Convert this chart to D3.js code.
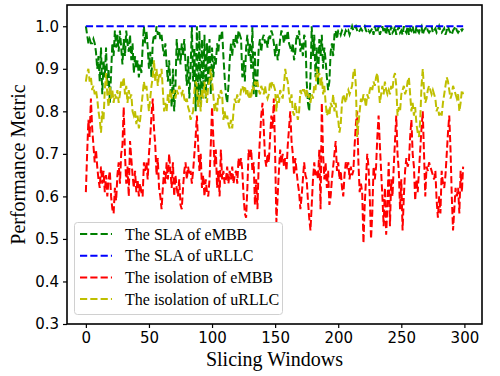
<!DOCTYPE html>
<html>
<head>
  <meta charset="utf-8">
  <style>
    body { margin: 0; background: #fff; }
    svg { display: block; }
  </style>
</head>
<body>
  <svg id='viz'></svg>
  <script src='https://d3js.org/d3.v7.min.js'></script>
  <script>
    // values, one per slicing window (0..299)
    var slaEmbb = [
      1.00, 0.98, 0.96, 0.97, 0.96, 0.96, 0.97, 0.96, 0.94, 0.90, 0.93, 0.87, 0.95, 0.84, 0.92, 0.88, 0.95, 0.86, 0.90, 0.82,
      0.89, 0.96, 0.93, 0.99, 0.95, 0.98, 0.94, 0.99, 0.95, 0.91, 0.97, 0.93, 0.99, 0.96, 0.94, 0.98, 0.92, 0.96, 0.89, 0.93,
      0.90, 0.92, 0.88, 0.91, 0.89, 0.95, 1.00, 0.96, 0.99, 0.95, 0.90, 0.94, 0.88, 0.96, 0.98, 0.97, 1.00, 0.98, 0.99, 0.97,
      0.98, 0.95, 0.93, 0.96, 0.91, 0.87, 0.92, 0.86, 0.81, 0.90, 0.80, 0.86, 0.97, 0.92, 0.95, 0.91, 0.96, 0.93, 0.97, 0.91,
      0.86, 0.93, 0.83, 0.90, 1.00, 0.87, 0.95, 0.80, 1.00, 0.82, 0.99, 0.81, 0.97, 0.85, 0.98, 0.83, 0.96, 0.86, 0.97, 0.84,
      0.95, 0.88, 0.93, 0.91, 0.96, 0.94, 0.98, 0.97, 0.99, 0.93, 0.88, 0.84, 0.82, 0.86, 0.92, 0.96, 0.93, 0.97, 0.95, 0.98,
      0.96, 0.99, 0.98, 0.97, 0.88, 0.92, 0.87, 0.95, 0.98, 0.93, 0.96, 0.90, 1.00, 0.84, 0.94, 0.83, 0.88, 0.95, 0.97, 0.94,
      0.97, 0.98, 0.96, 0.97, 0.95, 0.98, 0.97, 0.99, 0.98, 0.96, 0.93, 0.96, 0.92, 0.94, 0.97, 0.99, 0.98, 0.96, 0.98, 0.97,
      0.99, 0.96, 0.95, 0.94, 0.96, 0.92, 0.94, 0.98, 0.97, 0.99, 0.94, 0.96, 0.93, 0.98, 0.97, 0.87, 0.82, 0.80, 0.88, 1.00,
      0.93, 0.98, 0.88, 0.95, 0.86, 0.97, 0.93, 0.98, 0.90, 0.95, 0.92, 0.88, 0.85, 0.87, 0.94, 0.96, 0.93, 0.98, 0.99, 0.97,
      0.99, 0.99, 0.98, 0.99, 0.985, 0.98, 0.99, 0.985, 0.99, 0.98, 0.99, 1.00, 0.99, 0.995, 1.00, 0.99, 0.985, 0.99, 0.995, 0.99,
      0.995, 1.00, 0.99, 0.985, 0.99, 0.985, 0.99, 0.995, 0.98, 1.00, 0.99, 0.985, 1.00, 0.98, 0.99, 1.00, 0.985, 0.995, 0.98, 1.00,
      0.99, 0.98, 1.00, 0.985, 0.99, 1.00, 0.98, 0.99, 1.00, 0.985, 0.99, 0.98, 1.00, 0.99, 0.985, 1.00, 0.98, 0.995, 0.99, 1.00,
      0.985, 0.98, 1.00, 0.99, 0.985, 0.995, 1.00, 0.98, 0.99, 0.995, 1.00, 0.99, 0.985, 0.99, 1.00, 0.985, 0.99, 0.995, 0.985, 0.99,
      1.00, 0.99, 0.985, 0.99, 0.995, 0.98, 0.99, 1.00, 0.99, 0.985, 0.98, 0.99, 0.995, 1.00, 0.99, 0.985, 0.99, 0.995, 0.99, 0.995
    ];

    var slaUrllc = [
      1,1,1,1,1,1,1,1,1,1,1,1,1,1,1,1,1,1,1,1, 1,1,1,1,1,1,1,1,1,1,1,1,1,1,1,1,1,1,1,1,
      1,1,1,1,1,1,1,1,1,1,1,1,1,1,1,1,1,1,1,1, 1,1,1,1,1,1,1,1,1,1,1,1,1,1,1,1,1,1,1,1,
      1,1,1,1,1,1,1,1,1,1,1,1,1,1,1,1,1,1,1,1, 1,1,1,1,1,1,1,1,1,1,1,1,1,1,1,1,1,1,1,1,
      1,1,1,1,1,1,1,1,1,1,1,1,1,1,1,1,1,1,1,1, 1,1,1,1,1,1,1,1,1,1,1,1,1,1,1,1,1,1,1,1,
      1,1,1,1,1,1,1,1,1,1,1,1,1,1,1,1,1,1,1,1, 1,1,1,1,1,1,1,1,1,1,1,1,1,1,1,1,1,1,1,1,
      1,1,1,1,1,1,1,1,1,1,1,1,1,1,1,1,1,1,1,1, 1,1,1,1,1,1,1,1,1,1,1,1,1,1,1,1,1,1,1,1,
      1,1,1,1,1,1,1,1,1,1,1,1,1,1,1,1,1,1,1,1, 1,1,1,1,1,1,1,1,1,1,1,1,1,1,1,1,1,1,1,1,
      1,1,1,1,1,1,1,1,1,1,1,1,1,1,1,1,1,1,1,1
    ];

    var isoEmbb = [
      0.61, 0.70, 0.78, 0.74, 0.83, 0.76, 0.72, 0.68, 0.71, 0.67, 0.64, 0.62, 0.67, 0.63, 0.66, 0.61, 0.65, 0.60, 0.64, 0.66,
      0.60, 0.57, 0.56, 0.62, 0.59, 0.65, 0.68, 0.63, 0.70, 0.72, 0.81, 0.70, 0.63, 0.67, 0.60, 0.73, 0.69, 0.65, 0.62, 0.66,
      0.61, 0.64, 0.60, 0.63, 0.61, 0.60, 0.68, 0.66, 0.68, 0.64, 0.70, 0.74, 0.79, 0.83, 0.76, 0.72, 0.65, 0.69, 0.62, 0.60,
      0.57, 0.62, 0.66, 0.63, 0.68, 0.64, 0.70, 0.66, 0.62, 0.68, 0.60, 0.65, 0.62, 0.60, 0.64, 0.58, 0.57, 0.62, 0.66, 0.68,
      0.64, 0.67, 0.65, 0.66, 0.63, 0.66, 0.70, 0.74, 0.79, 0.72, 0.66, 0.70, 0.62, 0.65, 0.60, 0.64, 0.61, 0.60, 0.64, 0.72,
      0.81, 0.74, 0.67, 0.71, 0.62, 0.66, 0.60, 0.71, 0.64, 0.66, 0.63, 0.64, 0.67, 0.63, 0.66, 0.64, 0.67, 0.63, 0.65, 0.66,
      0.63, 0.69, 0.67, 0.69, 0.66, 0.60, 0.56, 0.55, 0.62, 0.71, 0.69, 0.71, 0.66, 0.68, 0.58, 0.64, 0.57, 0.68, 0.74, 0.79,
      0.82, 0.76, 0.69, 0.67, 0.70, 0.68, 0.74, 0.79, 0.76, 0.83, 0.70, 0.54, 0.60, 0.66, 0.71, 0.68, 0.70, 0.67, 0.69, 0.66,
      0.72, 0.76, 0.80, 0.73, 0.70, 0.65, 0.69, 0.66, 0.63, 0.61, 0.57, 0.60, 0.64, 0.68, 0.65, 0.64, 0.59, 0.55, 0.52, 0.58,
      0.64, 0.68, 0.65, 0.66, 0.64, 0.71, 0.57, 0.82, 0.70, 0.64, 0.68, 0.62, 0.66, 0.58, 0.60, 0.64, 0.67, 0.70, 0.73, 0.66,
      0.68, 0.64, 0.66, 0.62, 0.60, 0.65, 0.68, 0.67, 0.68, 0.64, 0.67, 0.65, 0.66, 0.72, 0.77, 0.80, 0.68, 0.61, 0.63, 0.61,
      0.49, 0.58, 0.64, 0.70, 0.67, 0.60, 0.50, 0.56, 0.67, 0.64, 0.67, 0.74, 0.79, 0.72, 0.66, 0.60, 0.53, 0.62, 0.51, 0.58,
      0.68, 0.53, 0.64, 0.60, 0.67, 0.73, 0.79, 0.70, 0.66, 0.57, 0.64, 0.52, 0.60, 0.66, 0.69, 0.67, 0.68, 0.74, 0.78, 0.70,
      0.67, 0.59, 0.64, 0.61, 0.66, 0.71, 0.76, 0.80, 0.70, 0.60, 0.67, 0.66, 0.68, 0.67, 0.66, 0.65, 0.64, 0.66, 0.59, 0.55,
      0.60, 0.56, 0.66, 0.63, 0.62, 0.65, 0.70, 0.75, 0.79, 0.71, 0.60, 0.52, 0.57, 0.62, 0.60, 0.62, 0.56, 0.66, 0.61, 0.67
    ];

    var isoUrllc = [
      0.87, 0.89, 0.90, 0.87, 0.88, 0.85, 0.86, 0.84, 0.85, 0.83, 0.80, 0.78, 0.75, 0.80, 0.78, 0.85, 0.89, 0.84, 0.81, 0.86,
      0.83, 0.85, 0.82, 0.84, 0.83, 0.85, 0.82, 0.84, 0.87, 0.86, 0.88, 0.84, 0.86, 0.82, 0.85, 0.83, 0.84, 0.80, 0.79, 0.80,
      0.77, 0.79, 0.76, 0.78, 0.81, 0.84, 0.87, 0.85, 0.86, 0.83, 0.80, 0.83, 0.86, 0.88, 0.92, 0.87, 0.90, 0.86, 0.89, 0.88,
      0.90, 0.85, 0.80, 0.82, 0.80, 0.84, 0.82, 0.85, 0.83, 0.84, 0.85, 0.83, 0.85, 0.84, 0.86, 0.85, 0.84, 0.85, 0.83, 0.82,
      0.83, 0.81, 0.80, 0.78, 0.79, 0.80, 0.85, 0.87, 0.86, 0.81, 0.84, 0.80, 0.85, 0.83, 0.87, 0.84, 0.82, 0.86, 0.87, 0.90,
      0.87, 0.84, 0.80, 0.82, 0.80, 0.84, 0.83, 0.85, 0.84, 0.78, 0.80, 0.78, 0.79, 0.77, 0.76, 0.78, 0.76, 0.80, 0.83, 0.82,
      0.84, 0.82, 0.83, 0.85, 0.86, 0.85, 0.86, 0.84, 0.85, 0.83, 0.84, 0.83, 0.86, 0.85, 0.87, 0.86, 0.87, 0.85, 0.84, 0.86,
      0.85, 0.84, 0.86, 0.84, 0.83, 0.84, 0.87, 0.86, 0.87, 0.86, 0.85, 0.80, 0.84, 0.82, 0.85, 0.84, 0.83, 0.86, 0.90, 0.88,
      0.87, 0.84, 0.82, 0.84, 0.80, 0.79, 0.82, 0.80, 0.78, 0.80, 0.85, 0.84, 0.85, 0.85, 0.84, 0.85, 0.83, 0.84, 0.82, 0.84,
      0.83, 0.86, 0.85, 0.90, 0.88, 0.89, 0.86, 0.88, 0.84, 0.86, 0.82, 0.79, 0.80, 0.79, 0.82, 0.81, 0.84, 0.80, 0.82, 0.79,
      0.78, 0.75, 0.77, 0.82, 0.84, 0.83, 0.82, 0.84, 0.85, 0.84, 0.85, 0.86, 0.89, 0.90, 0.86, 0.74, 0.77, 0.80, 0.83, 0.82,
      0.84, 0.83, 0.81, 0.84, 0.83, 0.85, 0.86, 0.85, 0.87, 0.86, 0.88, 0.89, 0.86, 0.82, 0.84, 0.86, 0.84, 0.87, 0.85, 0.84,
      0.85, 0.84, 0.86, 0.85, 0.88, 0.89, 0.86, 0.79, 0.81, 0.80, 0.84, 0.85, 0.86, 0.84, 0.85, 0.87, 0.88, 0.84, 0.80, 0.82,
      0.79, 0.81, 0.77, 0.75, 0.74, 0.78, 0.86, 0.90, 0.85, 0.82, 0.83, 0.85, 0.86, 0.85, 0.84, 0.85, 0.84, 0.83, 0.80, 0.81,
      0.79, 0.80, 0.79, 0.82, 0.84, 0.86, 0.88, 0.87, 0.85, 0.83, 0.84, 0.86, 0.85, 0.84, 0.83, 0.84, 0.80, 0.82, 0.85, 0.84
    ];

    var seriesNames = ["The SLA of eMBB", "The SLA of uRLLC", "The isolation of eMBB", "The isolation of uRLLC"];
    var seriesColors = ["#008000", "#0000ff", "#ff0000", "#bfbf00"];
    var seriesValues = [slaEmbb, slaUrllc, isoEmbb, isoUrllc];
    var xTicks = [0, 50, 100, 150, 200, 250, 300];
    var yTicks = [0.3, 0.4, 0.5, 0.6, 0.7, 0.8, 0.9, 1.0];

    var width = 500, height = 376;
    var plotL = 67, plotR = 482, plotT = 5, plotB = 324;

    var svg = d3.select("#viz").attr("width", width).attr("height", height);

    var x = d3.scaleLinear().domain([-14.95, 313.95]).range([plotL, plotR]);
    var y = d3.scaleLinear().domain([0.3, 1.05]).range([plotB, plotT]);

    var line = d3.line()
      .x(function(d, i) { return x(i); })
      .y(function(d) { return y(d); });

    var lines = svg.append("g");
    seriesValues.forEach(function(vals, k) {
      lines.append("path")
        .attr("d", line(vals))
        .attr("fill", "none")
        .attr("stroke", seriesColors[k])
        .attr("stroke-width", 2)
        .attr("stroke-dasharray", "7.2,3.1");
    });

    // axes
    var xAxis = svg.append("g")
      .attr("transform", "translate(0," + plotB + ")")
      .call(d3.axisBottom(x).tickValues(xTicks).tickSize(4).tickPadding(4));
    var yAxis = svg.append("g")
      .attr("transform", "translate(" + plotL + ",0)")
      .call(d3.axisLeft(y).tickValues(yTicks).tickFormat(d3.format(".1f")).tickSize(4).tickPadding(4));

    [xAxis, yAxis].forEach(function(a) {
      a.select(".domain").remove();
      a.selectAll("line").attr("stroke", "#000").attr("stroke-width", 1.2);
      a.selectAll("text")
        .style("font-family", "'DejaVu Sans', sans-serif")
        .style("font-size", "15px")
        .attr("fill", "#000");
    });

    svg.append("rect")
      .attr("x", plotL).attr("y", plotT)
      .attr("width", plotR - plotL).attr("height", plotB - plotT)
      .attr("fill", "none")
      .attr("stroke", "#000")
      .attr("stroke-width", 1.6);

    // axis labels
    svg.append("text")
      .attr("x", (plotL + plotR) / 2)
      .attr("y", 366)
      .attr("text-anchor", "middle")
      .style("font-family", "'Liberation Serif', 'Times New Roman', serif")
      .style("font-size", "20px")
      .text("Slicing Windows");

    svg.append("text")
      .attr("transform", "translate(25," + ((plotT + plotB) / 2) + ") rotate(-90)")
      .attr("text-anchor", "middle")
      .style("font-family", "'Liberation Serif', 'Times New Roman', serif")
      .style("font-size", "20px")
      .text("Performance Metric");

    // legend
    var legend = svg.append("g");
    legend.append("rect")
      .attr("x", 74.5).attr("y", 222.5)
      .attr("width", 208).attr("height", 92)
      .attr("rx", 3)
      .attr("fill", "#fff")
      .attr("fill-opacity", 0.8)
      .attr("stroke", "#d0d0d0")
      .attr("stroke-width", 1);

    seriesNames.forEach(function(name, k) {
      var cy = 234 + k * 21.7;
      legend.append("line")
        .attr("x1", 80).attr("x2", 112)
        .attr("y1", cy).attr("y2", cy)
        .attr("stroke", seriesColors[k])
        .attr("stroke-width", 2)
        .attr("stroke-dasharray", "7.2,3.1");
      legend.append("text")
        .attr("x", 125)
        .attr("y", cy + 5.5)
        .style("font-family", "'Liberation Serif', 'Times New Roman', serif")
        .style("font-size", "16px")
        .text(name);
    });
  </script>
</body>
</html>
